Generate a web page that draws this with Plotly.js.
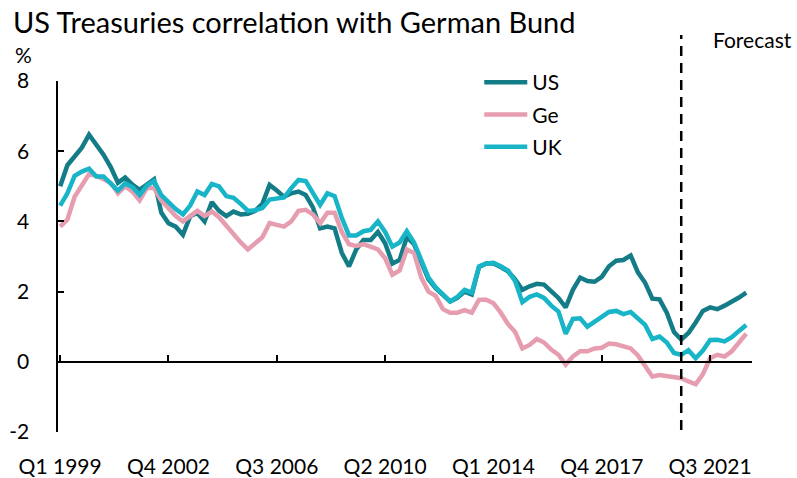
<!DOCTYPE html>
<html>
<head>
<meta charset="utf-8">
<script src="https://cdn.plot.ly/plotly-3.0.1.min.js"></script>
<style>
  html, body { margin: 0; padding: 0; background: #fff; }
  #chart { width: 797px; height: 478px; }
</style>
</head>
<body>
<div id="chart"></div>
<script>
// quarterly categories Q1 1999 .. Q4 2022
var quarters = [];
for (var yr = 1999; yr <= 2022; yr++) {
  for (var q = 1; q <= 4; q++) quarters.push('Q' + q + ' ' + yr);
}

var tickLabels = ['Q1 1999', 'Q4 2002', 'Q3 2006', 'Q2 2010', 'Q1 2014', 'Q4 2017', 'Q3 2021'];
var yTicks = [-2, 0, 2, 4, 6, 8];
var yTickText = ['-2', '0', '2', '4', '6', '8'];
var forecastStart = 'Q3 2020';

var usYield = [
  5.0, 5.6, 5.85, 6.1, 6.47, 6.2, 5.9, 5.55, 5.1, 5.25, 5.05, 4.9, 5.05, 5.2, 4.25, 3.95,
  3.85, 3.62, 4.15, 4.24, 4.0, 4.55, 4.3, 4.15, 4.28, 4.2, 4.22, 4.3, 4.5, 5.04, 4.88, 4.7,
  4.8, 4.85, 4.75, 4.4, 3.8, 3.85, 3.8, 3.1, 2.72, 3.2, 3.47, 3.47, 3.7, 3.38, 2.8, 2.9,
  3.55, 3.35, 2.85, 2.35, 2.1, 1.9, 1.72, 1.82, 2.0, 1.92, 2.7, 2.8, 2.8, 2.7, 2.58, 2.35,
  2.05, 2.15, 2.22, 2.2, 2.0, 1.82, 1.55, 2.05, 2.4, 2.3, 2.28, 2.42, 2.72, 2.88, 2.9, 3.03,
  2.55, 2.25, 1.8, 1.78, 1.4, 0.85, 0.63, 0.82, 1.12, 1.45, 1.55, 1.5, 1.6, 1.7, 1.83, 1.97
];

var geYield = [
  3.85, 4.05, 4.7, 5.05, 5.35, 5.3, 5.2, 5.1, 4.8, 5.0, 4.85, 4.6, 4.95, 4.95, 4.6, 4.35,
  4.15, 4.0, 4.15, 4.3, 4.15, 4.28, 4.12, 3.88, 3.6, 3.4, 3.2, 3.38, 3.55, 3.95, 3.9, 3.85,
  4.0, 4.3, 4.33, 4.2, 3.95, 4.25, 4.25, 3.7, 3.35, 3.3, 3.35, 3.28, 3.2, 2.95, 2.48, 2.6,
  3.2, 3.1, 2.4, 2.0, 1.88, 1.5, 1.4, 1.4, 1.47, 1.4, 1.77, 1.77, 1.67, 1.4, 1.08, 0.85,
  0.38, 0.48, 0.65, 0.55, 0.35, 0.2, -0.08, 0.15, 0.3, 0.3, 0.38, 0.4, 0.52, 0.5, 0.45, 0.38,
  0.18, -0.1, -0.42, -0.38, -0.4, -0.43, -0.47, -0.56, -0.64, -0.35, 0.1, 0.2, 0.15, 0.3, 0.55, 0.8
];

var ukYield = [
  4.45, 4.8, 5.3, 5.42, 5.5, 5.28, 5.28, 5.1, 4.88, 5.08, 4.98, 4.75, 5.02, 5.15, 4.75, 4.55,
  4.35, 4.2, 4.45, 4.85, 4.75, 5.07, 5.0, 4.72, 4.67, 4.5, 4.3, 4.32, 4.38, 4.62, 4.65, 4.68,
  4.95, 5.18, 5.15, 4.82, 4.47, 4.8, 4.72, 4.1, 3.6, 3.6, 3.72, 3.76, 4.0, 3.7, 3.28, 3.4,
  3.72, 3.4, 2.88, 2.4, 2.12, 1.9, 1.72, 1.85, 2.05, 1.97, 2.72, 2.8, 2.82, 2.72, 2.6, 2.3,
  1.7, 1.85, 1.92, 1.82, 1.6, 1.43, 0.8, 1.22, 1.24, 1.0, 1.15, 1.28, 1.42, 1.45, 1.36, 1.42,
  1.25, 1.05, 0.65, 0.72, 0.55, 0.25, 0.2, 0.33, 0.1, 0.32, 0.62, 0.63, 0.58, 0.7, 0.88, 1.05
];

var font = 'Lato, "Open Sans", sans-serif';

function series(name, values, color, group) {
  return {
    x: quarters, y: values, name: name, type: 'scatter', mode: 'lines',
    legendgroup: group, hoverinfo: 'skip',
    line: {color: color, width: 4.5}
  };
}

var data = [
  series('US', usYield, '#137C86', 'a'),
  series('Ge', geYield, '#E69DB0', 'b'),
  series('UK', ukYield, '#18B4C8', 'c'),
  // carrier for the zero-line axis with its tick marks
  {x: quarters, y: quarters.map(function () { return null; }), xaxis: 'x2',
   type: 'scatter', mode: 'lines', showlegend: false, hoverinfo: 'skip'}
];

var xRange = [-0.3, quarters.length - 0.2];

var layout = {
  width: 797, height: 478,
  margin: {l: 58, r: 45, t: 81, b: 46},
  paper_bgcolor: '#fff', plot_bgcolor: '#fff',
  font: {family: font, size: 21, color: '#000'},
  title: {
    text: 'US Treasuries correlation with German Bund',
    x: 13 / 797, xanchor: 'left', xref: 'container',
    y: 1 - 23 / 478, yanchor: 'middle', yref: 'container',
    font: {family: font, size: 29, color: '#000'}
  },
  showlegend: true,
  legend: {
    x: 0.607, y: 1.054, xanchor: 'left', yanchor: 'top',
    font: {size: 21}, traceorder: 'grouped', tracegroupgap: 2,
    itemwidth: 43, bgcolor: 'rgba(0,0,0,0)'
  },
  xaxis: {
    type: 'category', range: xRange,
    tickmode: 'array', tickvals: tickLabels, ticktext: tickLabels,
    showline: false, ticks: '', showgrid: false, zeroline: false,
    ticklabelstandoff: 20, tickangle: 0,
    tickfont: {size: 21}
  },
  xaxis2: {
    type: 'category', overlaying: 'x', anchor: 'free', position: 0.2,
    range: xRange, tickmode: 'array', tickvals: tickLabels,
    showticklabels: false, showline: true, linecolor: '#000', linewidth: 2.5,
    ticks: 'inside', ticklen: 6, tickwidth: 2, tickcolor: '#000',
    showgrid: false, zeroline: false
  },
  yaxis: {
    range: [-2, 8], tickmode: 'array', tickvals: yTicks, ticktext: yTickText,
    showline: true, linecolor: '#000', linewidth: 2.5,
    ticks: 'inside', ticklen: 6, tickwidth: 2, tickcolor: '#000',
    showgrid: false, zeroline: false,
    ticklabelstandoff: 22, tickfont: {size: 21}
  },
  shapes: [{
    type: 'line', xref: 'x', yref: 'paper',
    x0: forecastStart, x1: forecastStart, y0: 0.006, y1: 1.131,
    line: {color: '#000', width: 2.5, dash: '10px,7px'}
  }],
  annotations: [
    {text: 'Forecast', xref: 'paper', yref: 'paper', x: 1.001, y: 1.117,
     xanchor: 'center', yanchor: 'middle', showarrow: false, font: {size: 21}},
    {text: '%', xref: 'paper', yref: 'paper', x: -0.05, y: 1.075,
     xanchor: 'center', yanchor: 'middle', showarrow: false, font: {size: 21}}
  ]
};

Plotly.newPlot('chart', data, layout, {displayModeBar: false, staticPlot: true});
</script>
</body>
</html>
